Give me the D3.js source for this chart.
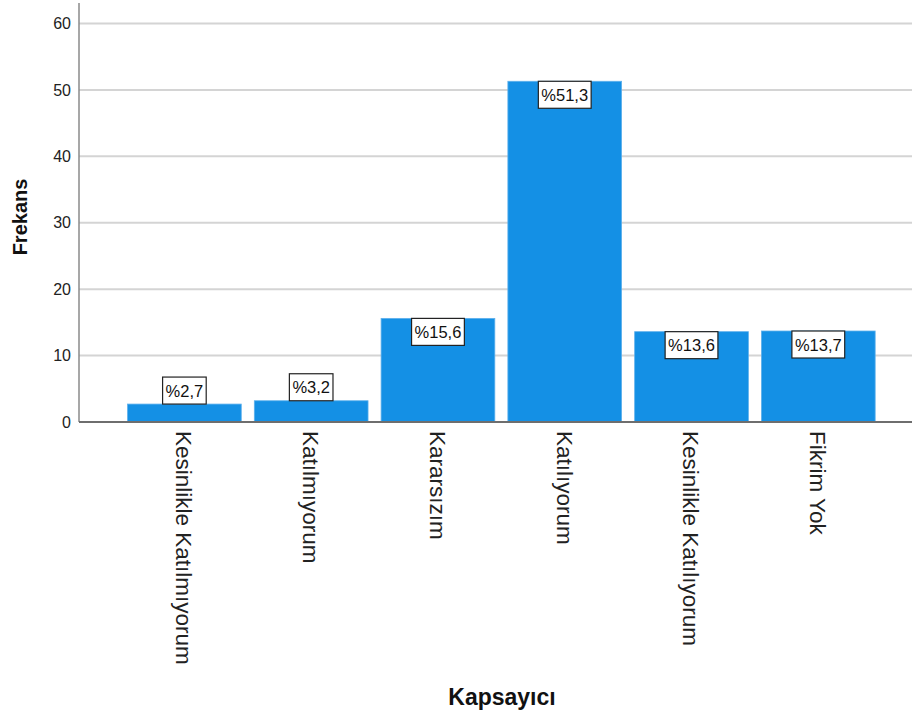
<!DOCTYPE html>
<html><head><meta charset="utf-8">
<script src="https://cdn.jsdelivr.net/npm/d3@7"></script>
<style>body{margin:0;background:#fff}svg{display:block}text{font-family:Arial,"Liberation Sans",sans-serif}</style>
</head><body>
<script>
const categories = ["Kesinlikle Katılmıyorum","Katılmıyorum","Kararsızım","Katılıyorum","Kesinlikle Katılıyorum","Fikrim Yok"];
const frequencies = [2.7, 3.2, 15.6, 51.3, 13.6, 13.7];
const percentLabels = ["%2,7","%3,2","%15,6","%51,3","%13,6","%13,7"];
const yTicks = [0,10,20,30,40,50,60];

const W=914,H=722;
const svg=d3.select("body").append("svg").attr("width",W).attr("height",H);
const x=d3.scaleBand().domain(categories).range([121.2,881.5]).paddingInner(0.103).paddingOuter(0.05);
const y=d3.scaleLinear().domain([0,60]).range([422,23.5]);
const left=79,right=912;

// gridlines
svg.append("g").selectAll("line").data(yTicks.filter(d=>d>0)).join("line")
 .attr("x1",left).attr("x2",right).attr("y1",d=>y(d)).attr("y2",d=>y(d))
 .attr("stroke","#d4d4d4").attr("stroke-width",2);

// y axis
const ya=svg.append("g").attr("transform",`translate(${left},0)`)
 .call(d3.axisLeft(y).tickValues(yTicks).tickSize(0).tickPadding(8));
ya.select(".domain").remove();
ya.selectAll("text").attr("font-size",16).attr("fill","#222").style("font-family","Arial, 'Liberation Sans', sans-serif");
svg.append("line").attr("x1",left).attr("x2",left).attr("y1",3).attr("y2",422).attr("stroke","#8a8a8a").attr("stroke-width",1.5);

// bars
svg.append("g").selectAll("rect").data(frequencies).join("rect")
 .attr("x",(d,i)=>x(categories[i])).attr("width",x.bandwidth())
 .attr("y",d=>y(d)).attr("height",d=>y(0)-y(d))
 .attr("fill","#1490e5").attr("stroke","#5eb0ec").attr("stroke-width",0.8);

// baseline
svg.append("line").attr("x1",left).attr("x2",right).attr("y1",422).attr("y2",422).attr("stroke","#6e6e6e").attr("stroke-width",2);

// value labels
const lg=svg.append("g");
frequencies.forEach((v,i)=>{
  const cx=x(categories[i])+x.bandwidth()/2;
  const g=lg.append("g");
  const t=g.append("text").text(percentLabels[i]).attr("font-size",16.5).attr("fill","#111")
    .attr("text-anchor","middle").attr("x",cx);
  const tw=t.node().getComputedTextLength();
  const bh=27, bw=tw+6;
  const top = v<10 ? y(v)-bh : y(v);
  t.attr("y",top+bh/2+6);
  g.insert("rect","text").attr("x",cx-bw/2).attr("y",top).attr("width",bw).attr("height",bh)
   .attr("fill","#fff").attr("stroke","#222").attr("stroke-width",1.2);
});

// category labels
svg.append("g").selectAll("text").data(categories).join("text")
 .attr("transform",d=>`translate(${x(d)+x.bandwidth()/2},431) rotate(90)`)
 .attr("dy","0.36em").attr("font-size",22.5).attr("fill","#222").text(d=>d);

// axis titles
svg.append("text").attr("transform","translate(27,217) rotate(-90)").attr("text-anchor","middle")
 .attr("font-size",20).attr("font-weight","bold").attr("fill","#111").text("Frekans");
svg.append("text").attr("x",502).attr("y",705).attr("text-anchor","middle")
 .attr("font-size",23).attr("font-weight","bold").attr("fill","#111").text("Kapsayıcı");
</script>
</body></html>
